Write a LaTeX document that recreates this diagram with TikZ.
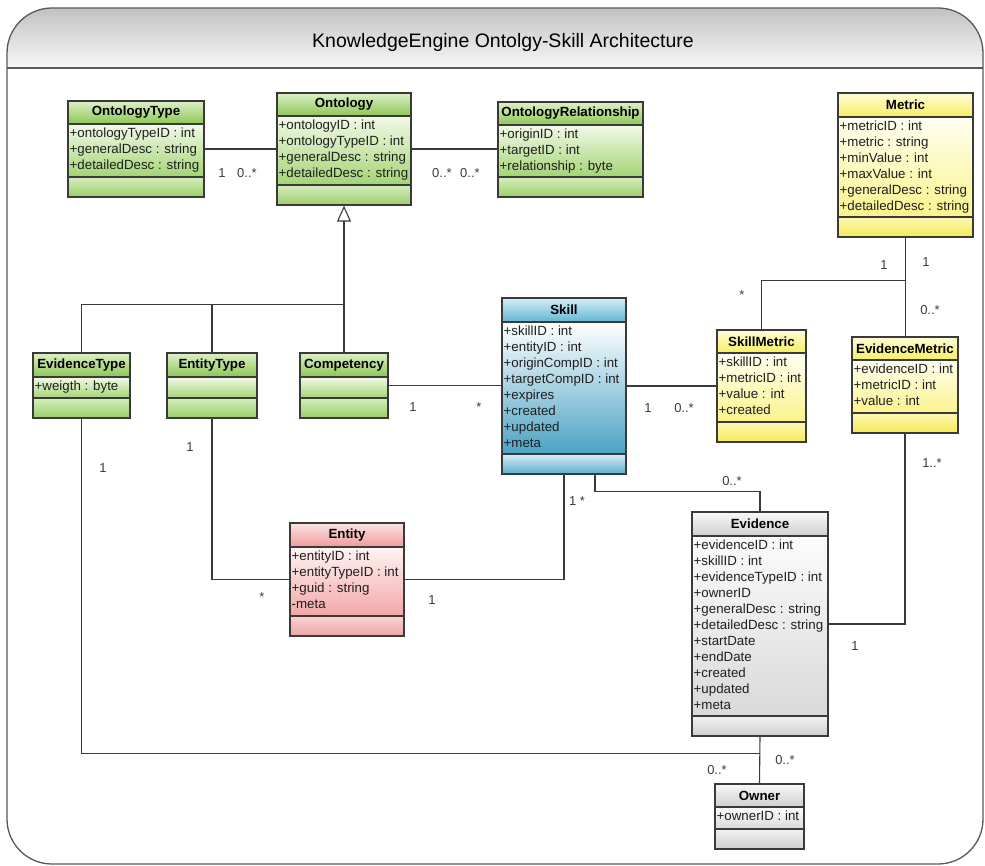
\documentclass[tikz,border=0pt]{standalone}
\usepackage{fontspec}
\setmainfont{Liberation Sans}
\usetikzlibrary{arrows.meta,fit,calc}

% colour schemes: H = header, A = attributes, O = operations; a = top, b = bottom
\definecolor{gHa}{HTML}{DDF0C6}\definecolor{gHb}{HTML}{8CC656}
\definecolor{gAa}{HTML}{F2F9E8}\definecolor{gAb}{HTML}{A3D474}
\definecolor{gOa}{HTML}{D6EDBE}\definecolor{gOb}{HTML}{9BCF68}
\definecolor{yHa}{HTML}{FFFDD8}\definecolor{yHb}{HTML}{F6EE62}
\definecolor{yAa}{HTML}{FFFFF2}\definecolor{yAb}{HTML}{FAF38C}
\definecolor{yOa}{HTML}{FCF8B4}\definecolor{yOb}{HTML}{F4EA58}
\definecolor{bHa}{HTML}{D4EEF6}\definecolor{bHb}{HTML}{62B6D3}
\definecolor{bAa}{HTML}{FFFFFF}\definecolor{bAb}{HTML}{4BA3C3}
\definecolor{bOa}{HTML}{D8EFF6}\definecolor{bOb}{HTML}{5AAECC}
\definecolor{pHa}{HTML}{FDE4E4}\definecolor{pHb}{HTML}{F09A9A}
\definecolor{pAa}{HTML}{FFF4F4}\definecolor{pAb}{HTML}{F3A6A6}
\definecolor{pOa}{HTML}{FAD4D4}\definecolor{pOb}{HTML}{EFA2A2}
\definecolor{wHa}{HTML}{F8F8F8}\definecolor{wHb}{HTML}{CFCFCF}
\definecolor{wAa}{HTML}{FCFCFC}\definecolor{wAb}{HTML}{D9D9D9}
\definecolor{wOa}{HTML}{F2F2F2}\definecolor{wOb}{HTML}{CECECE}
\definecolor{edge}{HTML}{3A3A3A}
\definecolor{multtext}{HTML}{3C3C3C}

% one UML class: name, left, right, top, header bottom, attribute bottom, scheme, title, attributes
\newcommand\umlclass[9]{%
  \coordinate (#1-nw) at (#2,#4);
  \coordinate (#1-se) at (#3,#6+20);
  \shade[top color=#7Ha,bottom color=#7Hb] (#2,#4) rectangle (#3,#5);
  \shade[top color=#7Aa,bottom color=#7Ab] (#2,#5) rectangle (#3,#6);
  \shade[top color=#7Oa,bottom color=#7Ob] (#2,#6) rectangle (#3,#6+20);
  \draw[boxline] (#2,#5) -- (#3,#5) (#2,#6) -- (#3,#6);
  \node[classbox, fit=(#1-nw)(#1-se)] (#1) {};
  \node[classname] (#1-name) at ({(#2+#3)/2},{(#4+#5)/2}) {#8};
  \node[attrs] (#1-attrs) at (#2+1.5,#5+4) {#9};
}

\begin{document}
\begin{tikzpicture}[x=1pt,y=-1pt,
  boxline/.style={draw=edge, line width=1.1pt},
  classbox/.style={draw=edge, line width=1.2pt, inner sep=0pt},
  classname/.style={font=\bfseries\fontsize{13.3}{16}\selectfont, inner sep=0pt},
  attrs/.style={anchor=north west, inner sep=0pt, align=left,
                font=\fontsize{13.3}{16}\selectfont, text=black!88},
  link/.style={draw=edge, line width=1.1pt},
  mult/.style={font=\fontsize{13}{15}\selectfont, text=multtext, inner sep=0pt},
  frameline/.style={draw=black!65, line width=1.3pt}]

\useasboundingbox (0,0) rectangle (985,866);

% outer frame with shaded title band
\begin{scope}
  \clip[rounded corners=45pt] (7,8) rectangle (983,864);
  \shade[top color=black!24, bottom color=black!3] (7,8) rectangle (983,68);
\end{scope}
\draw[frameline] (7,68) -- (983,68);
\draw[frameline, rounded corners=45pt] (7,8) rectangle (983,864);
\node[font=\fontsize{19.5}{22}\selectfont] (title) at (503,42)
  {KnowledgeEngine Ontolgy-Skill Architecture};

% classes
\umlclass{ontype}{68}{204}{101}{124}{177}{g}{OntologyType}
  {+ontologyTypeID : int\\+generalDesc : string\\+detailedDesc : string}
\umlclass{onto}{277}{411}{93}{116}{185}{g}{Ontology}
  {+ontologyID : int\\+ontologyTypeID : int\\+generalDesc : string\\+detailedDesc : string}
\umlclass{onrel}{498}{643}{102}{125}{177}{g}{OntologyRelationship}
  {+originID : int\\+targetID : int\\+relationship : byte}
\umlclass{metric}{838}{973}{93}{117}{217}{y}{Metric}
  {+metricID : int\\+metric : string\\+minValue : int\\+maxValue : int\\+generalDesc : string\\+detailedDesc : string}
\umlclass{evtype}{33}{130}{353}{377}{398}{g}{EvidenceType}{+weigth : byte}
\umlclass{enttype}{167}{257}{353}{377}{398}{g}{EntityType}{}
\umlclass{comp}{300}{388}{353}{377}{398}{g}{Competency}{}
\umlclass{skill}{502}{626}{298}{322}{454}{b}{Skill}
  {+skillID : int\\+entityID : int\\+originCompID : int\\+targetCompID : int\\+expires\\+created\\+updated\\+meta}
\umlclass{skmetric}{717}{806}{330}{353}{422}{y}{SkillMetric}
  {+skillID : int\\+metricID : int\\+value : int\\+created}
\umlclass{evmetric}{852}{958}{337}{360}{413}{y}{EvidenceMetric}
  {+evidenceID : int\\+metricID : int\\+value : int}
\umlclass{entity}{290}{404}{523}{547}{616}{p}{Entity}
  {+entityID : int\\+entityTypeID : int\\+guid : string\\-meta}
\umlclass{evidence}{692}{828}{512}{536}{716}{w}{Evidence}
  {+evidenceID : int\\+skillID : int\\+evidenceTypeID : int\\+ownerID\\+generalDesc : string\\+detailedDesc : string\\+startDate\\+endDate\\+created\\+updated\\+meta}
\umlclass{owner}{715}{804}{784}{807}{829}{w}{Owner}{+ownerID : int}

% junction points
\coordinate (inh) at ($(onto.south)+(0,99)$);
\coordinate (mj) at ($(metric.south)+(0,43)$);
\coordinate (skb) at ($(skill.south)+(31,0)$);
\coordinate (sej) at ($(skill.south)+(31,17)$);
\coordinate (oj) at ($(evidence.south)+(0,17)$);

% associations
\draw[link] (ontype.east) -- (ontype.east -| onto.west);
\draw[link] (onto.east) -- (onto.east -| onrel.west);
\draw[link] (comp.east) -- (comp.east -| skill.west);
\draw[link] (skill.east) -- (skill.east -| skmetric.west);
\draw[link] (metric.south) -- (metric.south |- evmetric.north);
\draw[link] (mj) -- (skmetric.north |- mj) -- (skmetric.north);
\draw[link] (evidence.east) -- (evidence.east -| evmetric.south) -- (evmetric.south);
\draw[link] (enttype.south) |- (entity.west);
\draw[link] (entity.east) -| (skill.south);
\draw[link] (skb) -- (sej) -| (evidence.north);
\draw[link] (evidence.south) -- (owner.north);
\draw[link] (evtype.south) |- (oj);

% generalisation
\draw[link] (evtype.north) -- (evtype.north |- inh) -- (inh) -- (comp.north);
\draw[link] (enttype.north) -- (enttype.north |- inh);
\draw[link, -{Triangle[open, width=14pt, length=16pt, line width=1.1pt]}] (inh) -- (onto.south);

% multiplicities
\node[mult] (m1) at (222,173) {1};
\node[mult] (m2) at (247,173) {0..*};
\node[mult] (m3) at (442,173) {0..*};
\node[mult] (m4) at (470,173) {0..*};
\node[mult] (m5) at (413,407) {1};
\node[mult] (m6) at (479,407) {*};
\node[mult] (m7) at (648,408) {1};
\node[mult] (m8) at (684,408) {0..*};
\node[mult] (m9) at (884,265) {1};
\node[mult] (m10) at (926,262) {1};
\node[mult] (m11) at (742,295) {*};
\node[mult] (m12) at (930,310) {0..*};
\node[mult] (m13) at (932,463) {1..*};
\node[mult] (m14) at (855,646) {1};
\node[mult] (m15) at (732,481) {0..*};
\node[mult] (m16) at (577,501) {1 *};
\node[mult] (m17) at (190,447) {1};
\node[mult] (m18) at (262,597) {*};
\node[mult] (m19) at (432,600) {1};
\node[mult] (m20) at (103,468) {1};
\node[mult] (m21) at (717,770) {0..*};
\node[mult] (m22) at (785,760) {0..*};
\end{tikzpicture}
\end{document}
